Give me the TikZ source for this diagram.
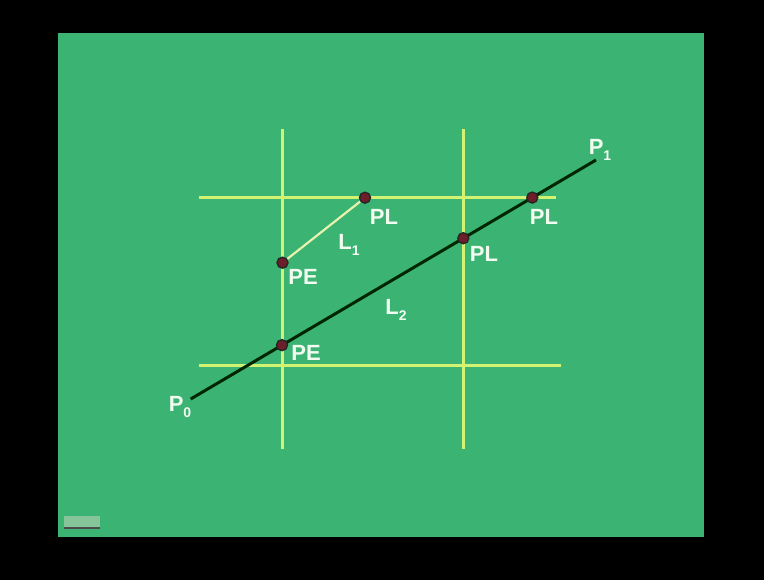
\documentclass[tikz,border=0pt]{standalone}
\usepackage{fontspec}
\setmainfont{Liberation Sans}
\usepackage{xcolor}
\usetikzlibrary{calc}
\definecolor{boardgreen}{HTML}{3BB373}
\definecolor{gridyellow}{HTML}{D2F272}
\definecolor{paleyellow}{HTML}{E8F2AC}
\definecolor{chalk}{HTML}{F2FBF0}
\definecolor{dotred}{HTML}{6E1E28}
\definecolor{icongrey}{HTML}{86C49A}

\begin{document}
\begin{tikzpicture}[x=1pt,y=-1pt,
  gridline/.style={gridyellow,line width=2.6pt},
  segline/.style={black!85!green,line width=3pt},
  dot/.style={circle,fill=dotred,draw=black!85,line width=1.4pt,inner sep=0pt,minimum size=11pt},
  lbl/.style={text=chalk,font=\bfseries\fontsize{22}{26}\selectfont,inner sep=0pt}]
  \fill[black] (0,0) rectangle (764,580);
  \fill[boardgreen] (58,33) rectangle (704,537);
  \fill[icongrey] (64,516) rectangle (100,529);
  \draw[black!70,line width=1.2pt] (64,528)--(100,528);
  \draw[gridline] (282.5,129) -- (282.5,449);
  \draw[gridline] (463.3,129) -- (463.3,449);
  \draw[gridline] (199,197.7) -- (556,197.7);
  \draw[gridline] (199,365.7) -- (561,365.7);
  \coordinate (p0) at (190.7,399);
  \coordinate (p1) at (596,160);
  \draw[segline] (p0) -- (p1);
  \node[dot] (pe2) at ($(p0)!0.2253!(p1)$) {};
  \node[dot] (pl2) at ($(p0)!0.6726!(p1)$) {};
  \node[dot] (pl3) at ($(p0)!0.8428!(p1)$) {};
  \node[dot] (pe1) at (282.5,262.7) {};
  \node[dot] (pl1) at (365,197.7) {};
  \draw[paleyellow,line width=2.2pt] (pe1) -- (pl1);
  \node[lbl] (lblpl1) at (384,217) {PL};
  \node[lbl] (lblpe1) at (303,277) {PE};
  \node[lbl] (lbll1) at (349,245) {L\raisebox{-6pt}{\fontsize{14}{16}\selectfont 1}};
  \node[lbl] (lblpl2) at (484,254) {PL};
  \node[lbl] (lblpl3) at (544,217) {PL};
  \node[lbl] (lbll2) at (396,310) {L\raisebox{-6pt}{\fontsize{14}{16}\selectfont 2}};
  \node[lbl] (lblpe2) at (306,353) {PE};
  \node[lbl] (lblp0) at (180,407) {P\raisebox{-6pt}{\fontsize{14}{16}\selectfont 0}};
  \node[lbl] (lblp1) at (600,150) {P\raisebox{-6pt}{\fontsize{14}{16}\selectfont 1}};
\end{tikzpicture}
\end{document}
